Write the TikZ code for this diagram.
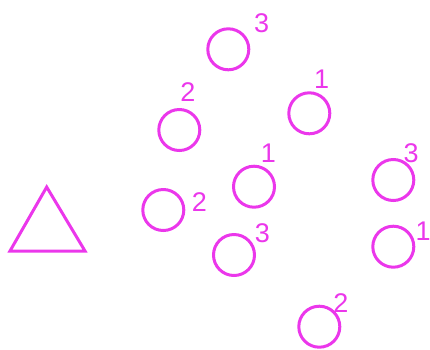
\documentclass[tikz,border=0pt]{standalone}
\usepackage{fontspec}
\setmainfont{Liberation Sans}
\definecolor{mag}{RGB}{235,55,235}
\begin{document}
\begin{tikzpicture}[x=1pt,y=-1pt,
  ring/.style={circle,draw=mag,line width=3pt,minimum size=41pt,inner sep=0pt},
  num/.style={text=mag,font=\fontsize{27}{27}\selectfont,inner sep=0pt}]
\useasboundingbox (0,0) rectangle (430,349);
\draw[mag,line width=3pt,line join=miter] (46.7,187) coordinate (t1) -- (10,251) coordinate (t2) -- (85,251) coordinate (t3) -- cycle;
\node[ring] (c1) at (228.3,49.3) {};
\node[num] (l1) at (261.7,23.5) {3};
\node[ring] (c2) at (179.3,130) {};
\node[num] (l2) at (188,92.5) {2};
\node[ring] (c3) at (309.3,113.3) {};
\node[num] (l3) at (321.7,79) {1};
\node[ring] (c4) at (254,186.7) {};
\node[num] (l4) at (268.3,153) {1};
\node[ring] (c5) at (163.3,210) {};
\node[num] (l5) at (199.3,201.7) {2};
\node[ring] (c6) at (234,255) {};
\node[num] (l6) at (262.3,232.7) {3};
\node[ring] (c7) at (393.3,180) {};
\node[num] (l7) at (411,152.7) {3};
\node[ring] (c8) at (393.3,246.7) {};
\node[num] (l8) at (423,231.7) {1};
\node[ring] (c9) at (319.3,326.7) {};
\node[num] (l9) at (341,302.7) {2};
\end{tikzpicture}
\end{document}
